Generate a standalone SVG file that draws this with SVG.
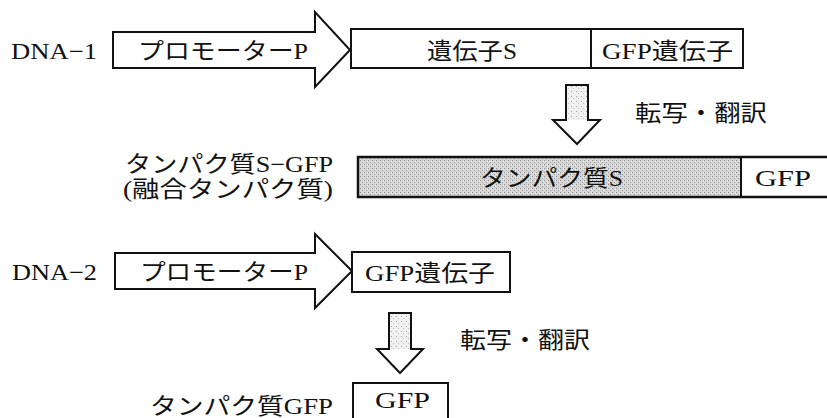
<svg xmlns="http://www.w3.org/2000/svg" width="827" height="418" viewBox="0 0 827 418">
<defs>
<pattern id="stipDark" width="4" height="4" patternUnits="userSpaceOnUse">
<rect width="4" height="4" fill="#d6d6d6"/>
<rect x="0" y="0" width="1" height="1" fill="#8a8a8a"/>
<rect x="2" y="2" width="1" height="1" fill="#9a9a9a"/>
<rect x="3" y="1" width="1" height="1" fill="#ededed"/>
</pattern>
<pattern id="stipLight" width="5" height="5" patternUnits="userSpaceOnUse">
<rect width="5" height="5" fill="#f0f0f0"/>
<rect x="1" y="1" width="1" height="1" fill="#a8a8a8"/>
<rect x="3" y="3" width="1" height="1" fill="#c4c4c4"/>
</pattern>
</defs>
<style>
.t{font-family:"Liberation Serif","Noto Sans CJK JP",serif;font-size:23px;fill:#111}
.box{fill:#fff;stroke:#111;stroke-width:2}
.ln{fill:none;stroke:#111;stroke-width:2}
.arr{fill:none;stroke:#111;stroke-width:2;stroke-linejoin:miter}
</style>
<rect width="827" height="418" fill="#fff"/>

<g id="label-dna1"><text class="t" x="11" y="59" textLength="86" lengthAdjust="spacingAndGlyphs">DNA−1</text></g>
<g id="promoter1">
<path class="box" d="M113,32 H315 V12 L350,50 L315,87 V68 H113 Z"/>
<text class="t" x="138" y="59" textLength="170" lengthAdjust="spacingAndGlyphs">プロモーターP</text>
</g>
<g id="gene1">
<rect class="box" x="351" y="29" width="392" height="39"/>
<line class="ln" x1="591" y1="29" x2="591" y2="68"/>
<text class="t" x="427" y="59" textLength="90" lengthAdjust="spacingAndGlyphs">遺伝子S</text>
<text class="t" x="602" y="59" textLength="131" lengthAdjust="spacingAndGlyphs">GFP遺伝子</text>
</g>

<g id="label-fusion">
<text class="t" x="125" y="172" textLength="208" lengthAdjust="spacingAndGlyphs">タンパク質S−GFP</text>
<text class="t" x="123" y="197" textLength="210" lengthAdjust="spacingAndGlyphs">(融合タンパク質)</text>
</g>
<g id="protein-fusion">
<rect x="358" y="157" width="383" height="40" fill="url(#stipDark)"/>
<rect x="741" y="157" width="90" height="40" fill="#fff"/>
<rect x="358" y="157" width="475" height="40" fill="none" stroke="#111" stroke-width="2.5"/>
<line class="ln" x1="741" y1="157" x2="741" y2="197"/>
<text class="t" x="480" y="186" textLength="143" lengthAdjust="spacingAndGlyphs">タンパク質S</text>
<text class="t" x="755" y="186" textLength="56" lengthAdjust="spacingAndGlyphs">GFP</text>
</g>

<g id="label-dna2"><text class="t" x="12" y="280" textLength="85" lengthAdjust="spacingAndGlyphs">DNA−2</text></g>
<g id="promoter2">
<path class="box" d="M115,253 H315 V234 L352,271 L315,308 V289 H115 Z"/>
<text class="t" x="140" y="280" textLength="168" lengthAdjust="spacingAndGlyphs">プロモーターP</text>
</g>
<g id="gene2">
<rect class="box" x="352" y="252" width="158" height="40"/>
<text class="t" x="365" y="281" textLength="130" lengthAdjust="spacingAndGlyphs">GFP遺伝子</text>
</g>

<g id="label-gfp"><text class="t" x="150" y="414" textLength="183" lengthAdjust="spacingAndGlyphs">タンパク質GFP</text></g>
<g id="protein-gfp">
<path class="ln" d="M353,425 V383 H448 V425"/>
<text class="t" x="375" y="408" textLength="55" lengthAdjust="spacingAndGlyphs">GFP</text>
</g>

<g id="connectors">
<g id="arrow1">
<rect x="566" y="85" width="22" height="35" fill="url(#stipLight)"/>
<path class="arr" d="M566,85 H588 V120 H600 L577,144 L553,120 H566 Z"/>
<text class="t" x="635" y="121" textLength="132" lengthAdjust="spacingAndGlyphs">転写・翻訳</text>
</g>
<g id="arrow2">
<rect x="389" y="313" width="22" height="36" fill="url(#stipLight)"/>
<path class="arr" d="M389,313 H411 V349 H423 L400,373 L377,349 H389 Z"/>
<text class="t" x="460" y="348" textLength="130" lengthAdjust="spacingAndGlyphs">転写・翻訳</text>
</g>
</g>
</svg>
